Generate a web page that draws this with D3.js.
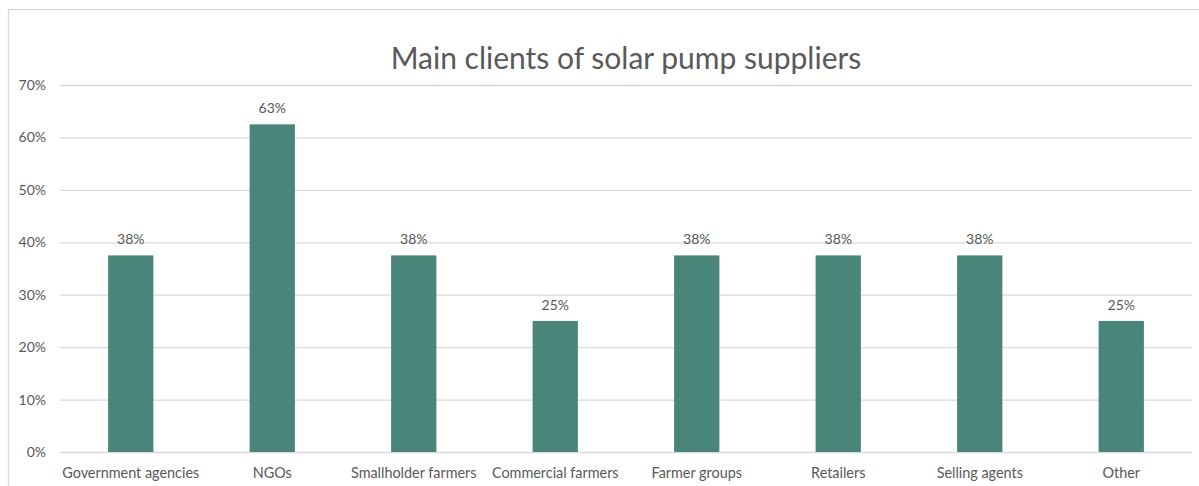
<!DOCTYPE html>
<html>
<head>
<meta charset="utf-8">
<script src="https://cdn.jsdelivr.net/npm/d3@7"></script>
<style>
  body { margin: 0; background: #fff; }
  svg { display: block; }
  svg text { font-family: Lato, "Open Sans", sans-serif; }
  .axis text { fill: #595959; font-size: 14px; }
  .x-axis text { font-size: 14.4px; }
  .grid line { stroke: #d9d9d9; stroke-width: 1.3; }
</style>
</head>
<body>
<svg id="chart"></svg>
<script>
// Chart data
const categories = ['Government agencies', 'NGOs', 'Smallholder farmers', 'Commercial farmers',
  'Farmer groups', 'Retailers', 'Selling agents', 'Other'];
const shares = [0.375, 0.625, 0.375, 0.25, 0.375, 0.375, 0.375, 0.25];
const yTicks = [0, 0.1, 0.2, 0.3, 0.4, 0.5, 0.6, 0.7];
const chartTitle = 'Main clients of solar pump suppliers';

const width = 1199, height = 486;
const margin = { top: 85, right: 7, bottom: 34, left: 60 };
const innerW = width - margin.left - margin.right;
const innerH = height - margin.top - margin.bottom;

const svg = d3.select('#chart')
  .attr('width', width)
  .attr('height', height);

// outer frame (clipped by the window on right and bottom)
svg.append('rect')
  .attr('x', 8.5).attr('y', 9.5)
  .attr('width', 1300).attr('height', 600)
  .attr('fill', 'none')
  .attr('stroke', '#d9d9d9')
  .attr('stroke-width', 1.3);

const chart = svg.append('g')
  .attr('transform', `translate(${margin.left},${margin.top})`);

const x = d3.scaleBand()
  .domain(categories)
  .range([0, innerW])
  .paddingInner(0.68)
  .paddingOuter(0.34);

const y = d3.scaleLinear()
  .domain([0, 0.7])
  .range([innerH, 0]);

// gridlines
chart.append('g')
  .attr('class', 'grid')
  .call(d3.axisLeft(y).tickValues(yTicks).tickSize(-innerW).tickFormat(''))
  .call(g => g.select('.domain').remove());

// y axis labels
chart.append('g')
  .attr('class', 'axis')
  .call(d3.axisLeft(y).tickValues(yTicks).tickSize(0).tickPadding(14).tickFormat(d3.format('.0%')))
  .call(g => g.select('.domain').remove());

// x axis labels
chart.append('g')
  .attr('class', 'axis x-axis')
  .attr('transform', `translate(0,${innerH})`)
  .call(d3.axisBottom(x).tickSize(0).tickPadding(16))
  .call(g => g.select('.domain').remove());

// bars
chart.selectAll('.bar')
  .data(shares)
  .join('rect')
  .attr('class', 'bar')
  .attr('x', (d, i) => x(categories[i]))
  .attr('width', x.bandwidth())
  .attr('y', d => y(d))
  .attr('height', d => innerH - y(d))
  .attr('fill', '#4a857a');

// value labels
chart.selectAll('.label')
  .data(shares)
  .join('text')
  .attr('class', 'label')
  .attr('x', (d, i) => x(categories[i]) + x.bandwidth() / 2)
  .attr('y', d => y(d) - 11)
  .attr('text-anchor', 'middle')
  .attr('fill', '#595959')
  .style('font-size', '14px')
  .text(d => d3.format('.0%')(d));

// title
svg.append('text')
  .attr('x', margin.left + innerW / 2)
  .attr('y', 69)
  .attr('text-anchor', 'middle')
  .attr('fill', '#595959')
  .style('font-size', '30px')
  .text(chartTitle);
</script>
</body>
</html>
